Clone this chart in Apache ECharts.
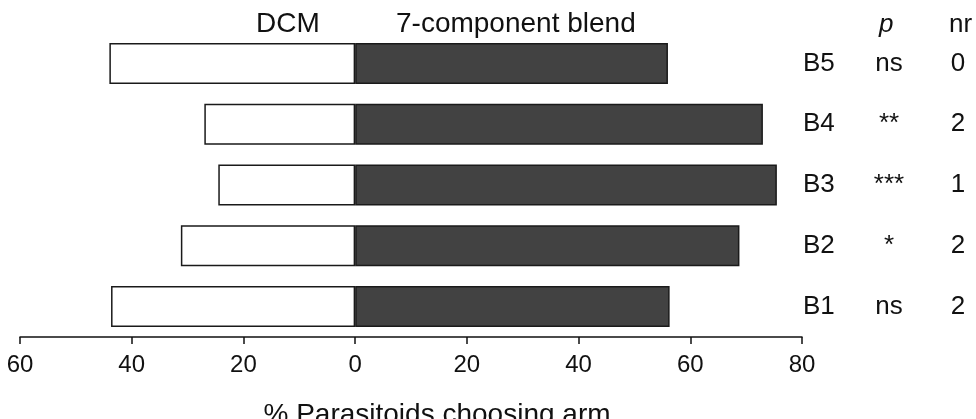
<!DOCTYPE html>
<html>
<head>
<meta charset="utf-8">
<script src="https://cdn.jsdelivr.net/npm/echarts@6/dist/echarts.min.js"></script>
<style>html,body{margin:0;padding:0;background:#fff}#c{width:976px;height:419px}</style>
</head>
<body>
<div id="c"></div>
<script>
// Data (bottom to top)
var categories = ['B1', 'B2', 'B3', 'B4', 'B5'];
var dcmValues = [43.7, 31.2, 24.5, 27.0, 44.0];      // % choosing DCM arm
var blendValues = [56.3, 68.8, 75.5, 73.0, 56.0];    // % choosing 7-component blend arm
var pLabels = ['ns', '*', '***', '**', 'ns'];
var nrLabels = ['2', '2', '1', '2', '0'];
var xTicks = { min: -60, max: 80, interval: 20 };

var FONT = '"Liberation Sans", Arial, sans-serif';
var chart = echarts.init(document.getElementById('c'), null, { renderer: 'canvas' });

function catAxis(offset, formatter, align) {
  return {
    type: 'category', data: categories, position: 'right', offset: offset,
    axisLine: { show: false }, axisTick: { show: false },
    axisLabel: {
      margin: 0, align: align, fontFamily: FONT, fontSize: 26, color: '#111',
      padding: [12, 0, 0, 0],
      formatter: formatter
    }
  };
}

chart.setOption({
  animation: false,
  backgroundColor: '#fff',
  grid: { left: 20, right: 174, top: 33, bottom: 82, containLabel: false, outerBoundsMode: 'none' },
  xAxis: {
    type: 'value', min: xTicks.min, max: xTicks.max, interval: xTicks.interval,
    splitLine: { show: false },
    axisLine: { show: true, onZero: false, lineStyle: { color: '#111', width: 1.5 } },
    axisTick: { show: true, length: 7, lineStyle: { color: '#111', width: 1.5 } },
    axisLabel: {
      fontFamily: FONT, fontSize: 24, color: '#111', margin: 16,
      formatter: function (v) { return String(Math.abs(v)); }
    },
    name: '% Parasitoids choosing arm', nameLocation: 'middle', nameGap: 64,
    nameTextStyle: { fontFamily: FONT, fontSize: 28, color: '#111', padding: [0, 0, 0, 52] }
  },
  yAxis: [
    catAxis(1, function (v) { return v; }, 'left'),
    catAxis(87, function (v, i) { return pLabels[i]; }, 'center'),
    catAxis(156, function (v, i) { return nrLabels[i]; }, 'center')
  ],
  series: [
    {
      name: 'DCM', type: 'bar', stack: 'arm', yAxisIndex: 0, barWidth: 41,
      data: dcmValues.map(function (v) { return -v; }),
      itemStyle: { color: '#ffffff', borderColor: '#1a1a1a', borderWidth: 1.5 }
    },
    {
      name: '7-component blend', type: 'bar', stack: 'arm', yAxisIndex: 0, barWidth: 41,
      data: blendValues,
      itemStyle: { color: '#424242', borderColor: '#1a1a1a', borderWidth: 1.5 }
    }
  ],
  graphic: [
    { type: 'text', left: 256, top: 10, style: { text: 'DCM', font: '28px ' + FONT, fill: '#111' } },
    { type: 'text', left: 396, top: 10, style: { text: '7-component blend', font: '28px ' + FONT, fill: '#111' } },
    { type: 'text', left: 879, top: 12, style: { text: 'p', font: 'italic 26px ' + FONT, fill: '#111' } },
    { type: 'text', left: 949, top: 12, style: { text: 'nr', font: '26px ' + FONT, fill: '#111' } }
  ]
});
</script>
</body>
</html>
